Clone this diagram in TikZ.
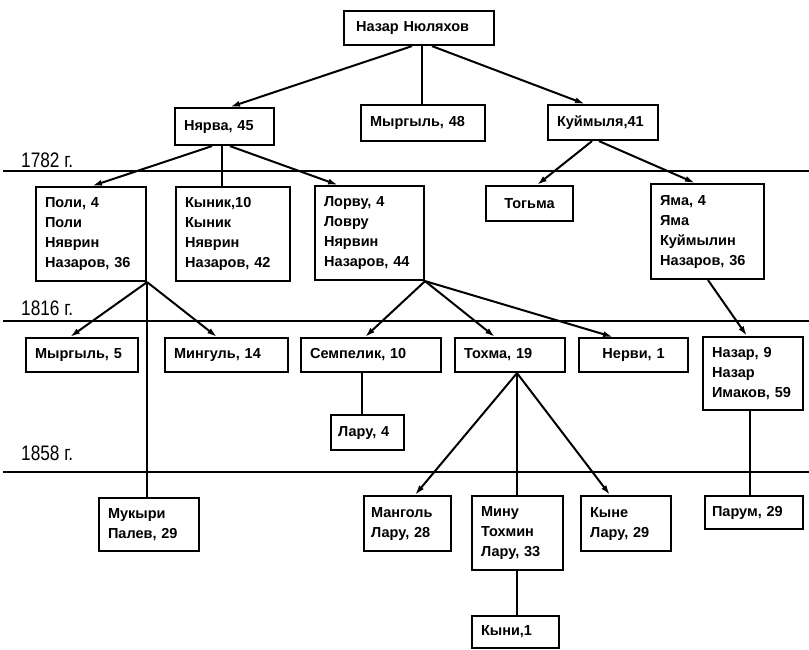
\documentclass[tikz,border=0pt]{standalone}
\usepackage{fontspec}
\setmainfont{Liberation Sans}
\newfontfamily\yearfont[FakeStretch=0.82]{Liberation Sans}
\usetikzlibrary{arrows.meta}
\tikzset{
  fam/.style={draw, line width=2.1pt, anchor=north west, inner xsep=9pt, inner ysep=0pt,
    align=left, font=\fontsize{14.5}{20}\selectfont\bfseries},
  conn/.style={line width=2pt},
  arr/.style={conn, -{Latex[length=10pt,width=6pt]}},
  yearline/.style={line width=2.6pt},
  yearlabel/.style={anchor=base west, inner sep=0pt, font=\yearfont\fontsize{21}{24}\selectfont}
}
\newcommand\famnode[7][]{%
  \pgfmathsetmacro\famtw{#5-#3-18}%
  \pgfmathsetmacro\famh{#6-#4}%
  \node[fam, text width=\famtw pt, minimum height=\famh pt, #1] (#2) at (#3,#4) {#7};%
}
\begin{document}
\begin{tikzpicture}[x=1pt,y=-1pt]
\useasboundingbox (0,0) rectangle (809,649);
% year lines
\coordinate (l1a) at (3,171); \coordinate (l1b) at (809,171);
\coordinate (l2a) at (3,321); \coordinate (l2b) at (809,321);
\coordinate (l3a) at (3,472); \coordinate (l3b) at (809,472);
\draw[yearline] (l1a) -- (l1b);
\draw[yearline] (l2a) -- (l2b);
\draw[yearline] (l3a) -- (l3b);
\node[yearlabel] (y1) at (21,167) {1782 г.};
\node[yearlabel] (y2) at (21,315) {1816 г.};
\node[yearlabel] (y3) at (21,460) {1858 г.};
% boxes
\famnode[inner xsep=12pt, text width=126pt]{top}{343}{10}{499}{44}{Назар Нюляхов}
\famnode{nyarva}{174}{107}{273}{144}{Нярва, 45}
\famnode{myrg48}{360}{104}{484}{140}{Мыргыль, 48}
\famnode{kuim}{547}{104}{657}{139}{Куймыля,41}
\famnode{poli}{35}{186}{145}{280}{Поли, 4\\Поли\\Няврин\\Назаров, 36}
\famnode{kynik}{175}{186}{289}{280}{Кыник,10\\Кыник\\Няврин\\Назаров, 42}
\famnode{lorvu}{314}{185}{423}{279}{Лорву, 4\\Ловру\\Нярвин\\Назаров, 44}
\famnode[align=center]{togma}{485}{185}{572}{220}{Тогьма}
\famnode{yama}{650}{183}{763}{278}{Яма, 4\\Яма\\Куймылин\\Назаров, 36}
\famnode{myrg5}{25}{337}{137}{371}{Мыргыль, 5}
\famnode{ming}{164}{337}{287}{371}{Мингуль, 14}
\famnode{semp}{300}{337}{440}{371}{Семпелик, 10}
\famnode{tohma}{454}{337}{564}{371}{Тохма, 19}
\famnode[align=center]{nervi}{578}{337}{687}{371}{Нерви, 1}
\famnode{nazar9}{702}{336}{802}{409}{Назар, 9\\Назар\\Имаков, 59}
\famnode[inner xsep=7pt, text width=59pt]{laru4}{330}{414}{403}{449}{Лару, 4}
\famnode{mukyri}{98}{497}{198}{550}{Мукыри\\Палев, 29}
\famnode[inner xsep=7pt, text width=73pt]{mangol}{363}{495}{450}{550}{Манголь\\Лару, 28}
\famnode{minu}{471}{495}{562}{569}{Мину\\Тохмин\\Лару, 33}
\famnode{kyne}{580}{495}{670}{550}{Кыне\\Лару, 29}
\famnode[inner xsep=7pt, text width=84pt]{parum}{704}{495}{802}{528}{Парум, 29}
\famnode{kyni}{471}{615}{558}{647}{Кыни,1}
% connectors
\draw[arr] ([xshift=69pt]top.south west) -- ([xshift=56pt]nyarva.north west);
\draw[conn] ([xshift=79pt]top.south west) -- ([xshift=62pt]myrg48.north west);
\draw[arr] ([xshift=89pt]top.south west) -- ([xshift=38pt]kuim.north west);
\draw[arr] ([xshift=38pt]nyarva.south west) -- ([xshift=57pt]poli.north west);
\draw[conn] ([xshift=48pt]nyarva.south west) -- ([xshift=47pt]kynik.north west);
\draw[arr] ([xshift=56pt]nyarva.south west) -- ([xshift=24pt]lorvu.north west);
\draw[arr] ([xshift=45pt]kuim.south west) -- ([xshift=52pt]togma.north west);
\draw[arr] ([xshift=52pt]kuim.south west) -- ([xshift=45pt]yama.north west);
\draw[arr] (poli.south east) -- ([xshift=45pt]myrg5.north west);
\draw[arr] (poli.south east) -- ([xshift=53pt]ming.north west);
\draw[conn] (poli.south east) -- ([xshift=49.1pt]mukyri.north west);
\draw[arr] (lorvu.south east) -- ([xshift=65pt]semp.north west);
\draw[arr] (lorvu.south east) -- ([xshift=41pt]tohma.north west);
\draw[arr] (lorvu.south east) -- ([xshift=35pt]nervi.north west);
\draw[conn] ([xshift=62pt]semp.south west) -- ([xshift=32pt]laru4.north west);
\draw[arr] ([xshift=58pt]yama.south west) -- ([xshift=45pt]nazar9.north west);
\draw[arr] ([xshift=63pt]tohma.south west) -- ([xshift=52pt]mangol.north west);
\draw[conn] ([xshift=63pt]tohma.south west) -- ([xshift=46pt]minu.north west);
\draw[arr] ([xshift=63pt]tohma.south west) -- ([xshift=30pt]kyne.north west);
\draw[conn] ([xshift=48pt]nazar9.south west) -- ([xshift=46pt]parum.north west);
\draw[conn] ([xshift=46pt]minu.south west) -- ([xshift=46pt]kyni.north west);
\end{tikzpicture}
\end{document}
